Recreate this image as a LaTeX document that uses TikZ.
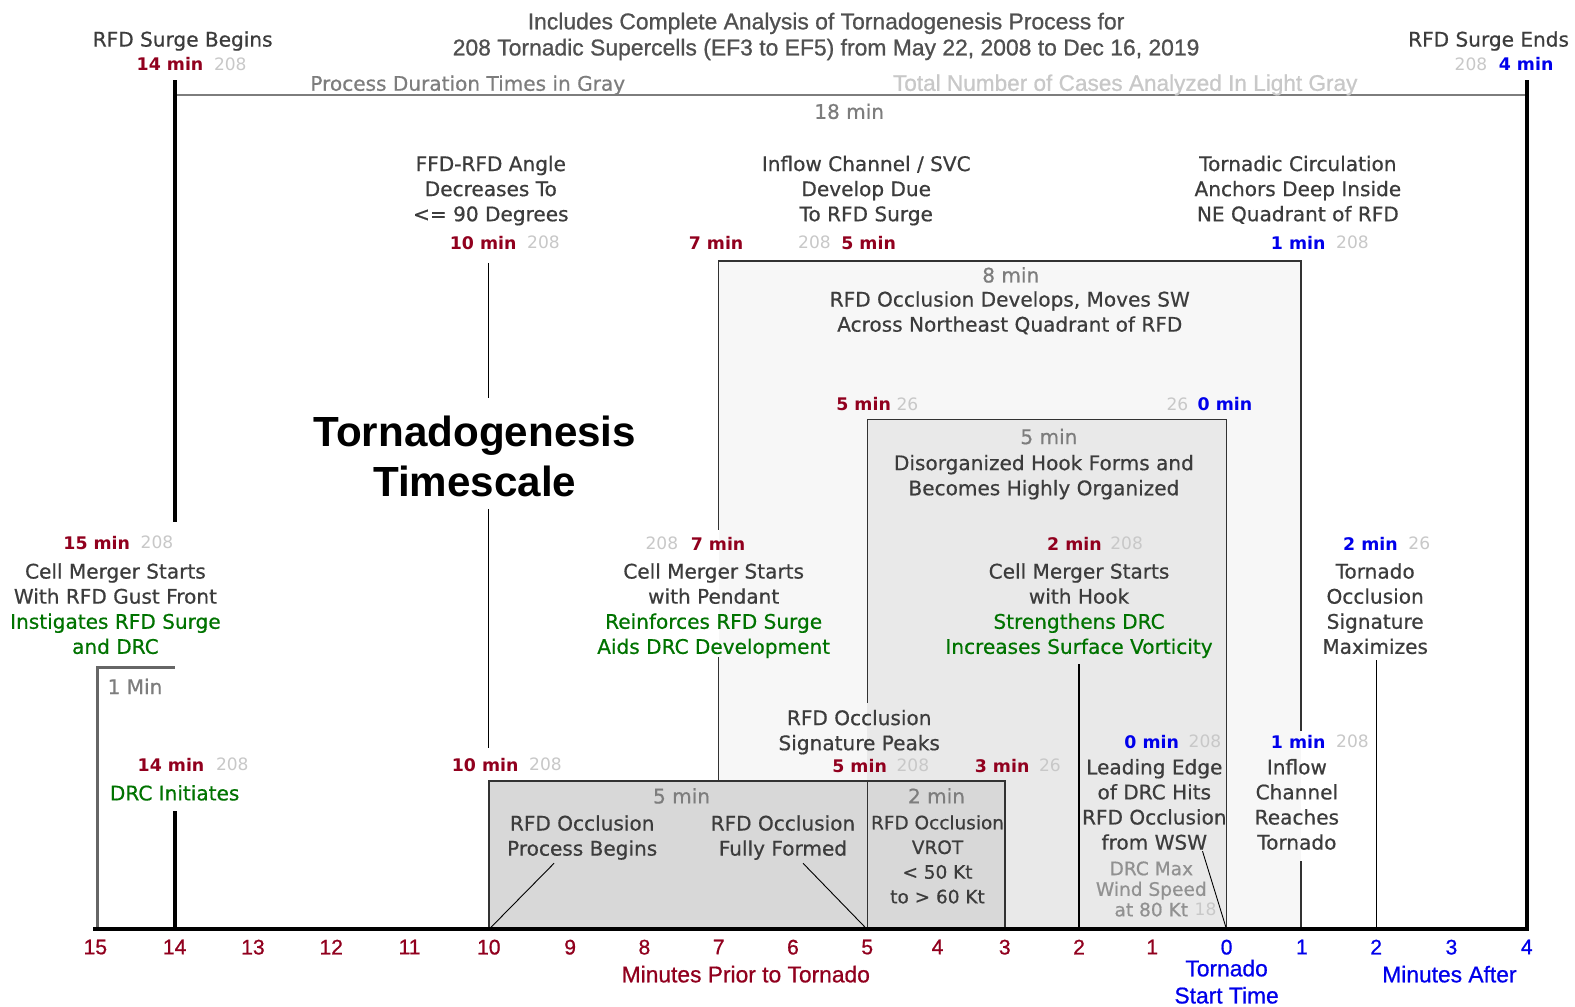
\documentclass[tikz,border=0pt]{standalone}
\usepackage{fontspec}
\setmainfont{DejaVu Sans}
\newfontfamily\lblf[FakeBold=0.6]{DejaVu Sans}
\newfontfamily\lib{Liberation Sans}
\newfontfamily\libk[FakeBold=0.8]{Liberation Sans}
\definecolor{dred}{RGB}{145,0,30}
\definecolor{dblue}{RGB}{0,0,235}
\definecolor{dgreen}{RGB}{0,115,0}
\definecolor{txt}{RGB}{60,60,60}
\definecolor{gtxt}{RGB}{125,125,125}
\definecolor{lgtxt}{RGB}{200,200,200}
\definecolor{fillA}{RGB}{247,247,247}
\definecolor{fillB}{RGB}{233,233,233}
\definecolor{fillC}{RGB}{216,216,216}
\definecolor{edge}{RGB}{50,50,50}
\tikzset{
  lbl/.style={inner sep=0pt, anchor=north, align=center, text=txt, font=\lblf\fontsize{20}{25}\selectfont},
  dur/.style={lbl, text=gtxt},
  mnr/.style={inner sep=0pt, anchor=north west, text=dred, font=\fontsize{17.3}{20}\selectfont\bfseries},
  mnb/.style={mnr, text=dblue},
  cnt/.style={inner sep=0pt, anchor=north west, text=lgtxt, font=\fontsize{17}{20}\selectfont},
  tickr/.style={inner sep=0pt, anchor=north, text=dred, font=\libk\fontsize{21}{24}\selectfont},
  tickb/.style={tickr, text=dblue},
  thinline/.style={draw=black, line width=1.2pt},
  boxedge/.style={draw=edge, line width=1.5pt},
  thickline/.style={draw=black, line width=4pt},
}
\newcommand{\gr}[1]{\textcolor{dgreen}{#1}}
\begin{document}
\begin{tikzpicture}[x=1pt,y=-1pt]
\useasboundingbox[fill=white] (0,0) rectangle (1569.1,1003.2);

% ---- box fills
\fill[fillA] (716,260) rectangle (1296,926);
\fill[fillB] (864,418) rectangle (1222,926);
\fill[fillC] (487,778) rectangle (1001,926);

% ---- coordinates
\coordinate (a15) at (93,926);
\coordinate (a4r) at (1523,926);
\coordinate (tl14) at (174,80);
\coordinate (bl14) at (174,520);
\coordinate (dl14) at (174,808);
\coordinate (x14) at (174,926);
\coordinate (tr4) at (1521,80);
\coordinate (x4r) at (1521,926);
\coordinate (gl) at (174,95);
\coordinate (gr) at (1521,95);
\coordinate (br1) at (97,926);
\coordinate (br2) at (97,665);
\coordinate (br3) at (174,665);
\coordinate (f1) at (487,262);
\coordinate (f2) at (487,397);
\coordinate (f3) at (487,507);
\coordinate (f4) at (487,745);
\coordinate (bA1) at (716,528);
\coordinate (bA2) at (716,260);
\coordinate (bA3) at (1296,260);
\coordinate (bA4) at (1296,728);
\coordinate (bA5) at (716,655);
\coordinate (bA6) at (716,778);
\coordinate (bA7) at (1296,858);
\coordinate (x1r) at (1296,926);
\coordinate (hB1) at (864,700);
\coordinate (hB2) at (864,418);
\coordinate (hB3) at (1222,418);
\coordinate (x0) at (1222,926);
\coordinate (cC1) at (487,778);
\coordinate (cC2) at (1001,926);
\coordinate (cC3) at (864,778);
\coordinate (x5) at (864,926);
\coordinate (x10) at (487,926);
\coordinate (h2) at (1075,662);
\coordinate (x2) at (1075,926);
\coordinate (m2r) at (1371,658);
\coordinate (x2r) at (1371,926);
\coordinate (dg1) at (552,860);
\coordinate (dg2) at (800,860);
\coordinate (dg3) at (1198,848);

% ---- lines
\draw[boxedge] (bA1) -- (bA2) -- (bA3) -- (bA4);
\draw[boxedge] (bA5) -- (bA6);
\draw[boxedge] (bA7) -- (x1r);
\draw[boxedge] (hB1) -- (hB2) -- (hB3) -- (x0);
\draw[boxedge] (cC1) rectangle (cC2);
\draw[boxedge] (cC3) -- (x5);
\draw[thinline] (f1) -- (f2);
\draw[thinline] (f3) -- (f4);
\draw[thinline] (h2) -- (x2);
\draw[thinline] (m2r) -- (x2r);
\draw[draw=black, line width=0.9pt] (dg1) -- (x10);
\draw[draw=black, line width=0.9pt] (dg2) -- (x5);
\draw[draw=black, line width=0.9pt] (dg3) -- (x0);
\draw[draw=gtxt, line width=2pt] (gl) -- (gr);
\draw[draw=gray!80!black, line width=2.5pt] (br1) -- (br2) -- (br3);
\draw[thickline] (tl14) -- (bl14);
\draw[thickline] (dl14) -- (x14);
\draw[thickline] (tr4) -- (x4r);
\draw[thickline] (a15) -- (a4r);

% ---- top texts
\node[lbl] (surgeB) at (182,31) {RFD Surge Begins};
\node[mnr] (m14a) at (136,57) {14 min};
\node[cnt] (c14a) at (213,57) {208};
\node[lbl, text=txt!90!white, font=\libk\fontsize{22.8}{26}\selectfont] (title) at (823,12.5)
  {Includes Complete Analysis of Tornadogenesis Process for\\208 Tornadic Supercells (EF3 to EF5) from May 22, 2008 to Dec 16, 2019};
\node[lbl] (surgeE) at (1483,31) {RFD Surge Ends};
\node[cnt] (c4) at (1449,57) {208};
\node[mnb] (m4) at (1493,57) {4 min};
\node[dur] (procg) at (466,75) {Process Duration Times in Gray};
\node[lbl, text=lgtxt, font=\libk\fontsize{22.5}{25}\selectfont] (totg) at (1121,74) {Total Number of Cases Analyzed In Light Gray};
\node[dur] (m18) at (846,103) {18 min};

% ---- second row
\node[lbl] (ffd) at (489,155) {FFD-RFD Angle\\Decreases To\\<= 90 Degrees};
\node[mnr] (m10a) at (448,235) {10 min};
\node[cnt] (c10a) at (525,235) {208};
\node[lbl] (inflow) at (863,155) {Inflow Channel / SVC\\Develop Due\\To RFD Surge};
\node[mnr] (m7a) at (686,235) {7 min};
\node[cnt] (c5a) at (795,235) {208};
\node[mnr] (m5a) at (838,235) {5 min};
\node[lbl] (tcirc) at (1293,155) {Tornadic Circulation\\Anchors Deep Inside\\NE Quadrant of RFD};
\node[mnb] (m1a) at (1266,235) {1 min};
\node[cnt] (c1a) at (1331,235) {208};

% ---- big box content
\node[dur] (m8) at (1007,266) {8 min};
\node[lbl] (occdev) at (1006,290) {RFD Occlusion Develops, Moves SW\\Across Northeast Quadrant of RFD};
\node[mnr] (m5b) at (833,396) {5 min};
\node[cnt] (c5b) at (893,396) {26};
\node[cnt] (c0a) at (1162,396) {26};
\node[mnb] (m0a) at (1193,396) {0 min};
\node[dur] (m5c) at (1045,427) {5 min};
\node[lbl] (hook) at (1040,453) {Disorganized Hook Forms and\\Becomes Highly Organized};

% ---- big title
\node[lbl, text=black, font=\lib\bfseries\fontsize{42}{50}\selectfont] (bigt) at (473,414) {Tornadogenesis\\Timescale};

% ---- left
\node[mnr] (m15) at (63,534) {15 min};
\node[cnt] (c15) at (140,534) {208};
\node[lbl] (cm1) at (115,561) {Cell Merger Starts\\With RFD Gust Front\\\gr{Instigates RFD Surge}\\\gr{and DRC}};
\node[lbl, anchor=north west, text=gtxt] (onemin) at (107,676) {1 Min};
\node[mnr] (m14b) at (137,755) {14 min};
\node[cnt] (c14b) at (215,755) {208};
\node[lbl, text=dgreen] (drc) at (174,782) {DRC Initiates};
\node[mnr] (m10b) at (450,755) {10 min};
\node[cnt] (c10b) at (527,755) {208};

% ---- middle row
\node[cnt] (c7b) at (643,535) {208};
\node[mnr] (m7b) at (688,535) {7 min};
\node[lbl] (cm2) at (711,561) {Cell Merger Starts\\with Pendant\\\gr{Reinforces RFD Surge}\\\gr{Aids DRC Development}};
\node[mnr] (m2a) at (1043,535) {2 min};
\node[cnt] (c2a) at (1106,535) {208};
\node[lbl] (cm3) at (1075,561) {Cell Merger Starts\\with Hook\\\gr{Strengthens DRC}\\\gr{Increases Surface Vorticity}};
\node[mnb] (m2b) at (1338,535) {2 min};
\node[cnt] (c2b) at (1403,535) {26};
\node[lbl] (tos) at (1370,561) {Tornado\\Occlusion\\Signature\\Maximizes};

% ---- lower
\node[lbl] (peaks) at (856,707) {RFD Occlusion\\Signature Peaks};
\node[mnr] (m5d) at (829,756) {5 min};
\node[cnt] (c5d) at (893,756) {208};
\node[mnr] (m3) at (971,756) {3 min};
\node[cnt] (c3) at (1035,756) {26};
\node[dur] (m5e) at (679,785) {5 min};
\node[lbl] (procb) at (580,812) {RFD Occlusion\\Process Begins};
\node[lbl] (fully) at (780,812) {RFD Occlusion\\Fully Formed};
\node[dur] (m2c) at (933,785) {2 min};
\node[lbl, font=\lblf\fontsize{18.4}{24.6}\selectfont] (vrot) at (934,812) {RFD Occlusion\\VROT\\< 50 Kt\\to > 60 Kt};
\node[mnb] (m0b) at (1120,732) {0 min};
\node[cnt] (c0b) at (1184,732) {208};
\node[lbl] (lead) at (1150,756) {Leading Edge\\of DRC Hits\\RFD Occlusion\\from WSW};
\node[lbl, text=gtxt!85!white, font=\lblf\fontsize{18.5}{20.5}\selectfont] (drcmax) at (1147,858) {DRC Max\\Wind Speed\\at 80 Kt};
\node[cnt] (c18) at (1190,899) {18};
\node[mnb] (m1b) at (1266,732) {1 min};
\node[cnt] (c1b) at (1331,732) {208};
\node[lbl] (inflr) at (1292,756) {Inflow\\Channel\\Reaches\\Tornado};

% ---- axis labels
\node[tickr] (n15) at (95,936) {15};
\node[tickr] (n14) at (174,936) {14};
\node[tickr] (n13) at (252,936) {13};
\node[tickr] (n12) at (330,936) {12};
\node[tickr] (n11) at (408,936) {11};
\node[tickr] (n10) at (487,936) {10};
\node[tickr] (n9) at (568,936) {9};
\node[tickr] (n8) at (642,936) {8};
\node[tickr] (n7) at (716,936) {7};
\node[tickr] (n6) at (790,936) {6};
\node[tickr] (n5) at (864,936) {5};
\node[tickr] (n4) at (934,936) {4};
\node[tickr] (n3) at (1001,936) {3};
\node[tickr] (n2) at (1075,936) {2};
\node[tickr] (n1) at (1148,936) {1};
\node[tickb] (p0) at (1222,936) {0};
\node[tickb] (p1) at (1297,936) {1};
\node[tickb] (p2) at (1371,936) {2};
\node[tickb] (p3) at (1446,936) {3};
\node[tickb] (p4) at (1521,936) {4};
\node[tickr, font=\libk\fontsize{22.7}{27}\selectfont] (mprior) at (743,962) {Minutes Prior to Tornado};
\node[tickb, align=center, font=\libk\fontsize{22.7}{27}\selectfont] (tst) at (1222,956) {Tornado\\Start Time};
\node[tickb, font=\libk\fontsize{22.7}{27}\selectfont] (mafter) at (1444,962) {Minutes After};
\end{tikzpicture}
\end{document}
